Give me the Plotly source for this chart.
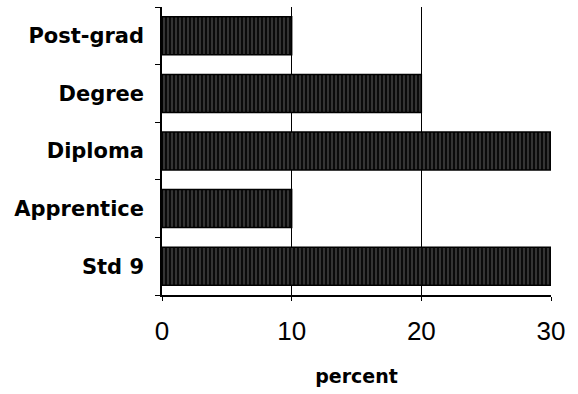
import plotly.graph_objects as go

categories = ["Std 9", "Apprentice", "Diploma", "Degree", "Post-grad"]
values = [30, 10, 30, 20, 10]
x_ticks = [0, 10, 20, 30]

fig = go.Figure(go.Bar(
    y=categories, x=values, orientation="h", width=0.66,
    marker=dict(color="#111111", line=dict(color="#000000", width=1.5),
                pattern=dict(shape="|", fgcolor="#c8c8c8", bgcolor="#0a0a0a",
                             size=4, solidity=0.22, fillmode="overlay")),
    showlegend=False,
))

bold_family = "DejaVu Sans, sans-serif"
tick_family = "Liberation Sans, Arial, sans-serif"
fig.update_layout(
    width=578, height=394,
    margin=dict(l=162, r=27, t=7, b=99),
    plot_bgcolor="white", paper_bgcolor="white",
    font=dict(family=tick_family, color="black"),
    bargap=0.34,
)
fig.update_xaxes(
    range=[0, 30], tickvals=x_ticks, ticktext=[str(v) for v in x_ticks],
    showgrid=True, gridcolor="black", gridwidth=1,
    showline=True, linecolor="black", linewidth=1.5,
    ticks="outside", ticklen=4, tickcolor="black",
    tickfont=dict(size=26, family=tick_family),
    ticklabelstandoff=8,
    title=dict(text="<b>percent</b>", font=dict(size=19, family=bold_family), standoff=25),
    zeroline=False,
)
fig.update_yaxes(
    categoryorder="array", categoryarray=categories,
    showline=True, linecolor="black", linewidth=1.5,
    ticks="outside", ticklen=5, tickcolor="black", tickson="boundaries",
    tickfont=dict(size=21, family=bold_family, weight="bold"),
    ticklabelstandoff=12,
    showgrid=False,
)

fig.write_html("out.html")
